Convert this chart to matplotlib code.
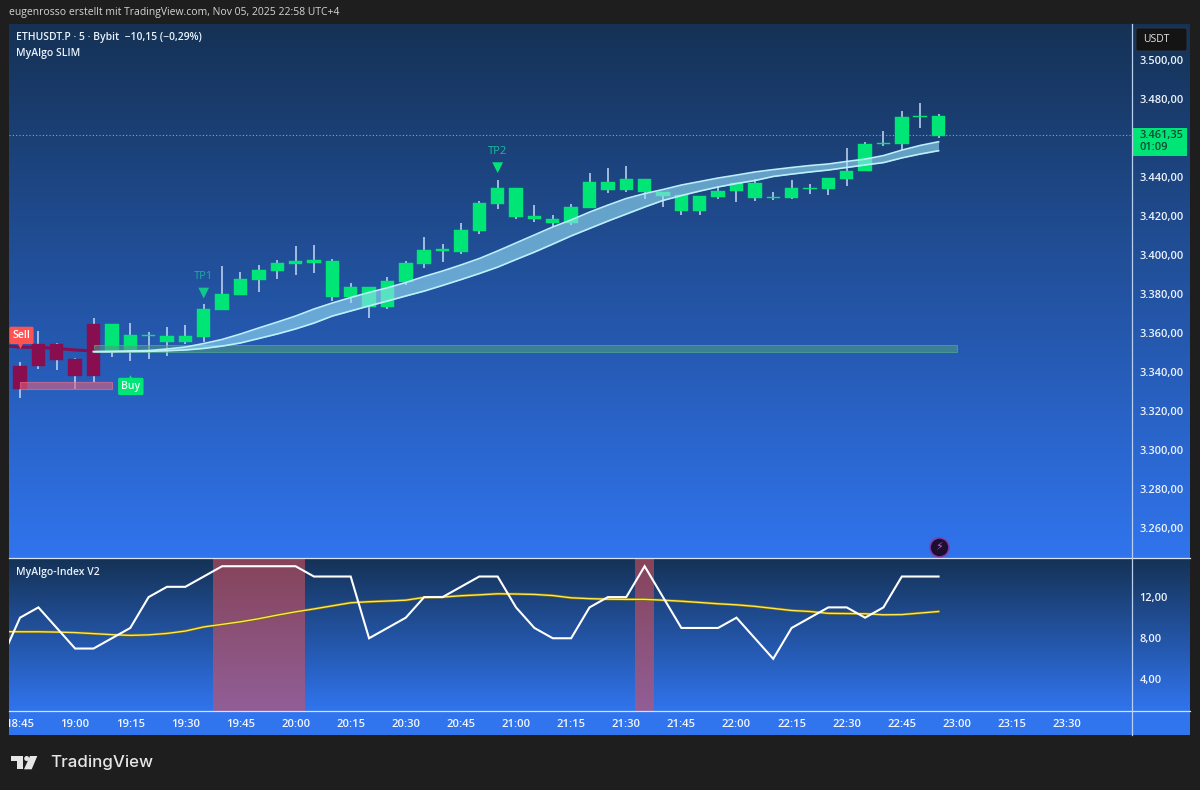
import numpy as np
import matplotlib
matplotlib.use('Agg')
import matplotlib.pyplot as plt
from matplotlib.patches import Rectangle, Polygon, Circle, FancyBboxPatch

plt.rcParams['font.family'] = ['Open Sans', 'DejaVu Sans']

# candles, bar 0 is 18:45, one bar every 5 minutes
body_top = [3343.1,3354.2,3354.4,3346.5,3364.6,3364.8,3359.0,3359.0,3358.5,3358.5,3372.2,3380.0,3387.7,3392.5,3395.7,3396.8,3397.3,
            3397.1,3383.6,3383.7,3386.5,3395.7,3402.6,3402.9,3412.8,3426.5,3434.4,3434.4,3420.0,3418.6,3424.6,3437.3,3437.3,3439.0,
            3439.0,3432.5,3430.6,3430.3,3433.0,3436.8,3436.8,3429.9,3434.4,3434.4,3439.5,3443.2,3456.9,3457.4,3470.8,3471.4,3471.3]
body_bot = [3331.1,3343.1,3346.2,3338.0,3338.0,3350.9,3351.3,3358.5,3355.5,3355.5,3358.1,3371.8,3379.7,3387.3,3392.0,3395.4,3396.1,
            3378.6,3378.3,3373.5,3373.3,3386.0,3395.4,3402.2,3401.7,3412.5,3426.3,3419.6,3418.5,3416.3,3416.3,3424.3,3433.5,3433.5,
            3432.2,3430.3,3422.6,3422.6,3429.8,3432.7,3429.4,3429.4,3429.4,3434.0,3434.0,3439.1,3443.0,3456.8,3457.1,3470.9,3461.0]
highs = [3345.3,3361.2,3355.0,3347.3,3367.5,3364.8,3365.3,3360.7,3363.2,3364.1,3374.7,3394.4,3391.4,3394.9,3397.4,3404.6,3405.1,
         3397.8,3385.5,3383.7,3388.9,3397.1,3409.1,3405.5,3416.4,3427.7,3438.6,3434.4,3425.6,3420.5,3426.2,3441.9,3444.5,3445.6,
         3439.0,3432.5,3430.6,3430.3,3435.4,3436.8,3439.0,3432.2,3438.5,3436.4,3439.5,3455.0,3458.1,3463.6,3474.0,3477.8,3472.2]
lows = [3326.7,3341.4,3341.0,3331.3,3335.0,3347.8,3345.6,3346.5,3348.2,3354.4,3355.5,3371.8,3379.7,3381.2,3387.7,3389.7,3390.6,
        3376.4,3375.5,3367.9,3372.3,3384.5,3393.3,3396.6,3400.5,3410.9,3423.7,3418.6,3417.1,3414.5,3415.4,3424.3,3431.6,3432.2,
        3428.6,3424.5,3420.4,3420.5,3428.6,3427.2,3427.7,3428.2,3428.6,3431.3,3430.8,3435.4,3443.0,3456.1,3453.8,3465.0,3459.8]
n_maroon = 5
last_price = 3461.35

# ribbon from bar 4 to bar 50
ribbon_upper = [3350.5,3350.6,3350.8,3351.0,3351.8,3352.8,3354.6,3356.7,3359.5,3362.6,3365.6,3368.7,3372.3,3375.4,3378.2,3380.8,
                3383.2,3385.9,3389.0,3391.8,3394.9,3398.2,3402.1,3406.2,3410.3,3414.4,3418.0,3422.0,3425.6,3429.0,3431.5,3433.6,
                3435.9,3437.7,3439.5,3441.0,3442.6,3443.8,3444.9,3445.9,3446.7,3448.0,3449.2,3451.0,3453.8,3456.2,3458.1]
ribbon_lower = [3350.4,3350.4,3350.5,3350.6,3350.9,3351.3,3352.1,3353.3,3354.9,3357.2,3359.5,3362.1,3365.1,3368.7,3371.3,3373.9,
                3376.4,3379.0,3381.5,3384.4,3387.4,3390.5,3393.8,3397.7,3401.5,3405.6,3409.8,3413.6,3417.4,3421.0,3424.6,3428.0,
                3430.5,3432.8,3434.9,3436.7,3438.2,3440.3,3441.5,3442.6,3443.6,3444.9,3446.2,3447.4,3449.8,3451.8,3453.5]
maroon_line = [3353.6,3352.8,3352.6,3352.1,3351.3,3350.8]  # bars -1 to 4

# indicator pane, bars -1 to 50
index_line = [6,10,11,9,7,7,8,9,12,13,13,14,15,15,15,15,15,14,14,14,8,9,10,12,12,13,14,14,11,9,8,8,11,12,12,15,12,9,9,9,10,8,6,9,
              10,11,11,10,11,14,14,14]
index_avg = [8.65,8.63,8.63,8.6,8.55,8.45,8.35,8.28,8.33,8.47,8.7,9.1,9.35,9.6,9.9,10.25,10.57,10.85,11.15,11.45,11.55,11.62,
             11.7,11.97,12.0,12.13,12.22,12.32,12.3,12.26,12.15,11.93,11.85,11.8,11.78,11.78,11.7,11.6,11.48,11.35,11.25,11.1,
             10.9,10.7,10.6,10.42,10.4,10.38,10.28,10.3,10.45,10.6]

price_ticks = [3500,3480,3460,3440,3420,3400,3380,3360,3340,3320,3300,3280,3260]
price_labels = ['3.500,00','3.480,00','','3.440,00','3.420,00','3.400,00','3.380,00','3.360,00','3.340,00','3.320,00','3.300,00',
                '3.280,00','3.260,00']
index_ticks = [12,8,4]
index_labels = ['12,00','8,00','4,00']
time_labels = ['18:45','19:00','19:15','19:30','19:45','20:00','20:15','20:30','20:45','21:00','21:15','21:30','21:45','22:00',
               '22:15','22:30','22:45','23:00','23:15','23:30']

W, H = 1200, 790
GREEN = '#00e676'
MAROON = '#880e4f'
WICK = '#c6d9f4'
LINE = '#d3e2f8'
OUTER = '#1e1e1e'
FS = 7.5


def px_axes(x0, y0, x1, y1, **kw):
    return fig.add_axes([x0 / W, 1 - y1 / H, (x1 - x0) / W, (y1 - y0) / H], **kw)


fig = plt.figure(figsize=(12, 7.9), dpi=100, facecolor=OUTER)

# background gradients
ax_bg = px_axes(9, 24, 1190, 735, zorder=0)
ax_bg.axis('off')
top = np.array([21, 50, 85]) / 255
bot = np.array([48, 116, 238]) / 255
g1 = np.linspace(top, bot, 534)
g2 = np.linspace(top, bot, 153)
g3 = np.tile(bot, (24, 1))
ax_bg.imshow(np.vstack([g1, g2, g3])[:, None, :], aspect='auto', interpolation='nearest')

ax = px_axes(9, 24, 1132, 558, zorder=1)
ax2 = px_axes(9, 558, 1132, 711, zorder=1)
for a in (ax, ax2):
    a.patch.set_alpha(0)
    for s in a.spines.values():
        s.set_visible(False)
    a.set_xlim(-0.6, 60.53)
    a.yaxis.tick_right()

x = np.arange(len(body_top))
colors = [MAROON] * n_maroon + [GREEN] * (len(x) - n_maroon)

ax.set_ylim(3244.6, 3518.5)
ax.vlines(x, lows, highs, color=WICK, lw=1.1, zorder=2)
ax.bar(x, np.array(body_top) - np.array(body_bot), bottom=body_bot, width=0.73, color=colors, edgecolor=colors, lw=0.3, zorder=3)

# zones
ax.add_patch(Rectangle((4, 3350.2), 47, 3.7, fc='#4d9a80', ec='#58b888', lw=0.7, alpha=0.6, zorder=3.5))
ax.add_patch(Rectangle((0, 3331.1), 5, 3.6, fc='#e0607c', ec='#f07088', lw=0.8, alpha=0.6, zorder=3.5))

rx = x[4:]
ax.fill_between(rx, ribbon_lower, ribbon_upper, color='#96e0f6', alpha=0.6, lw=0, zorder=4)
ax.plot(rx, ribbon_upper, color='#bdf0fd', lw=1.2, zorder=5)
ax.plot(rx, ribbon_lower, color='#bdf0fd', lw=1.2, zorder=5)
ax.plot(np.arange(-1, 5), maroon_line, color=MAROON, lw=2.2, zorder=4)

ax.axhline(last_price, color='#35d8b0', lw=0.8, ls=(0, (1, 2)), zorder=1)

# signals
ax.scatter([0], [3353.2], marker='v', s=12, color='#ff5252', lw=0, zorder=6)
ax.text(0.08, 3358.8, 'Sell', color='white', fontsize=7.6, fontweight='semibold', ha='center', va='center', zorder=7,
        bbox=dict(boxstyle='round,pad=0.3,rounding_size=0.15', fc='#ff5252', ec='none'))
ax.scatter([6], [3337.4], marker='^', s=12, color=GREEN, lw=0, zorder=6)
ax.text(6.03, 3332.6, 'Buy', color='#e8fff4', fontsize=7.6, fontweight='semibold', ha='center', va='center', zorder=7,
        bbox=dict(boxstyle='round,pad=0.3,rounding_size=0.15', fc=GREEN, ec='none'))
ax.scatter([10, 26], [3380.5, 3444.8], marker='v', s=60, color=['#0fc98a', GREEN], lw=0, zorder=6)
ax.text(10, 3388.8, 'TP1', color='#14b597', fontsize=8, ha='center', va='center', zorder=6)
ax.text(26, 3453, 'TP2', color='#14c09a', fontsize=8, ha='center', va='center', zorder=6)

# bolt badge at the last bar
ax.scatter([50], [3250.3], s=190, color='#1a0f2e', edgecolor='#7e3fb0', lw=1.2, zorder=6)
ax.text(50, 3250.1, '\u26a1', color='#c957e6', fontsize=8, ha='center', va='center', zorder=7, family='DejaVu Sans')

ax.set_xticks([])
ax.set_yticks(price_ticks, price_labels)
ax.tick_params(axis='y', length=0, pad=5.5, labelsize=FS + 0.4, labelcolor='#eef4fd')
for t in ax.get_yticklabels():
    t.set_fontweight('semibold')

# indicator pane
ax2.set_ylim(0.93, 15.8)
for a, b in ((10.5, 15.5), (33.5, 34.5)):
    ax2.axvspan(a, b, fc=(210 / 255, 80 / 255, 93 / 255), alpha=0.6, lw=0, zorder=1)
bx = np.arange(-1, 51)
ax2.plot(bx, index_avg, color='#7a6a10', lw=2.0, zorder=2)
ax2.plot(bx, index_avg, color='#ffe94d', lw=1.0, zorder=3)
ax2.plot(bx, index_line, color='white', lw=1.5, zorder=4, solid_joinstyle='miter')
ax2.set_yticks(index_ticks, index_labels)
ax2.tick_params(axis='y', length=0, pad=5.5, labelsize=FS + 0.4, labelcolor='#eef4fd')
ax2.set_xticks(np.arange(len(time_labels)) * 3, time_labels)
ax2.tick_params(axis='x', length=0, pad=5.5, labelsize=FS + 0.6, labelcolor='#f2f6fd')
for t in ax2.get_yticklabels() + ax2.get_xticklabels():
    t.set_fontweight('semibold')

# everything drawn in picture pixels
ov = px_axes(0, 0, W, H, zorder=3)
ov.set_xlim(0, W)
ov.set_ylim(H, 0)
ov.axis('off')
ov.patch.set_alpha(0)
ov.add_patch(Rectangle((0, 700), 9, 40, fc=OUTER, ec='none'))
ov.plot([9, 1190], [558, 558], color=LINE, lw=0.9)
ov.plot([9, 1190], [711, 711], color=LINE, lw=0.9)
ov.plot([1132, 1132], [24, 735], color='#b9cfee', lw=0.9)

ov.text(9, 13, 'eugenrosso erstellt mit TradingView.com, Nov 05, 2025 22:58 UTC+4', color='#d4d4d4', fontsize=FS, va='center')
ov.text(16, 37.5, 'ETHUSDT.P \u00b7 5 \u00b7 Bybit  \u221210,15 (\u22120,29%)', color='#eaf2fb', fontsize=FS, fontweight='semibold', va='center')
ov.text(16, 53.5, 'MyAlgo SLIM', color='#eaf2fb', fontsize=FS, fontweight='semibold', va='center')
ov.text(16, 572, 'MyAlgo-Index V2', color='#eaf2fb', fontsize=FS, fontweight='semibold', va='center')

ov.add_patch(FancyBboxPatch((1138, 30), 47, 19, boxstyle='round,pad=2', fc='#141414', ec='#2a3a50', lw=0.6))
ov.text(1143, 40, 'USDT', color='#e4e4e4', fontsize=FS, va='center')
ov.add_patch(Rectangle((1132, 128), 55, 28, fc=GREEN, ec='none'))
ov.text(1140, 135.5, '3.461,35', color='#0c4a34', fontsize=FS + 0.4, fontweight='semibold', va='center')
ov.text(1140, 148, '01:09', color='#0c4a34', fontsize=FS + 0.4, fontweight='semibold', va='center')

# TradingView logo
logo = '#e6e6e6'
ov.add_patch(Polygon([(10.7, 756), (22.7, 756), (22.7, 769.3), (16.7, 769.3), (16.7, 761), (10.7, 761)], fc=logo, ec='none'))
ov.add_patch(Circle((26.7, 758.5), 2.5, fc=logo, ec='none'))
ov.add_patch(Polygon([(30, 756), (37.3, 756), (31.7, 769.3), (24, 769.3)], fc=logo, ec='none'))
ov.text(50, 763, 'TradingView', color=logo, fontsize=12.2, fontweight='medium', va='center', family='Inter')

fig.savefig('out.png', dpi=100, facecolor=OUTER)
